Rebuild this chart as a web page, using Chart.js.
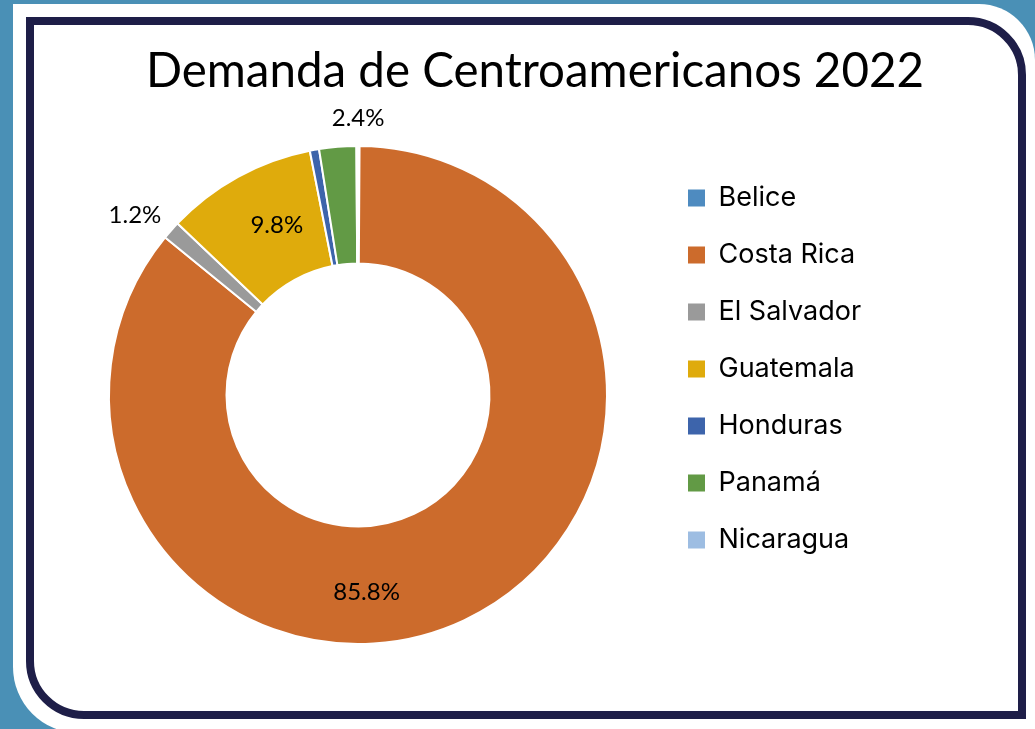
<!DOCTYPE html>
<html>
<head>
<meta charset="utf-8">
<script src="https://cdn.jsdelivr.net/npm/chart.js@4.4.1/dist/chart.umd.min.js"></script>
<style>
  html, body { margin: 0; padding: 0; }
  body { width: 1035px; height: 729px; overflow: hidden; background: #4a90b6; position: relative; }
  #panel { position: absolute; left: 13px; top: 4px; width: 1022px; height: 729px; background: #ffffff; border-radius: 0 56px 0 66px; }
  #frame { position: absolute; left: 26px; top: 17px; width: 984px; height: 686px; border: 8px solid #1e1e48; border-radius: 0 58px 0 58px; }
  #wrap { position: absolute; left: 0; top: 0; width: 1035px; height: 729px; }
</style>
</head>
<body>
<div id="panel"></div>
<div id="frame"></div>
<div id="wrap"><canvas id="c" width="1035" height="729"></canvas></div>
<script>
// ---- data ----
const titleText = 'Demanda de Centroamericanos 2022';
const categories = ['Belice', 'Costa Rica', 'El Salvador', 'Guatemala', 'Honduras', 'Panamá', 'Nicaragua'];
const shares = [0.1, 85.8, 1.2, 9.8, 0.6, 2.4, 0.1];
const sliceColors = ['#4e8bc0', '#cc6b2c', '#9a9a9a', '#dfab0c', '#3d64ab', '#629a45', '#9dbde2'];

const TITLE_FONT = 'Lato, "Open Sans", "Liberation Sans", sans-serif';
const LEGEND_FONT = 'Inter, "Open Sans", "Liberation Sans", sans-serif';

// draws the percentage labels relative to each arc's own geometry
const sliceLabels = {
  id: 'sliceLabels',
  afterDatasetsDraw(chart, args, opts) {
    const meta = chart.getDatasetMeta(0);
    const values = chart.data.datasets[0].data;
    const ctx = chart.ctx;
    ctx.save();
    ctx.font = opts.font;
    ctx.fillStyle = opts.color;
    ctx.textAlign = 'center';
    ctx.textBaseline = 'middle';
    meta.data.forEach((arc, i) => {
      const v = values[i];
      if (v < opts.minValue) return;
      const p = arc.getProps(['x', 'y', 'startAngle', 'endAngle', 'innerRadius', 'outerRadius'], true);
      const place = opts.placement[i] || { shift: 0, f: 0.5 };
      const a = (p.startAngle + p.endAngle) / 2 + place.shift * Math.PI / 180;
      const r = p.innerRadius + place.f * (p.outerRadius - p.innerRadius);
      ctx.fillText(v.toFixed(1) + '%', p.x + r * Math.cos(a), p.y + r * Math.sin(a));
    });
    ctx.restore();
  }
};

// gives the right-hand legend a fixed box width so the title centres over the whole frame
const legendWidthFix = {
  id: 'legendWidthFix',
  beforeUpdate(chart, args, opts) {
    const lg = chart.legend;
    if (lg && !lg._fixedWidth) {
      const fit = lg.fit;
      lg.fit = function () { fit.call(this); this.width = opts.width; };
      lg._fixedWidth = true;
    }
  }
};

new Chart(document.getElementById('c'), {
  type: 'doughnut',
  data: {
    labels: categories,
    datasets: [{
      data: shares,
      backgroundColor: sliceColors,
      borderColor: '#ffffff',
      borderWidth: 2,
      radius: 249,
      cutout: '52.8%'
    }]
  },
  plugins: [sliceLabels, legendWidthFix],
  options: {
    responsive: false,
    animation: false,
    layout: { padding: { top: 43.75, bottom: 34.75, left: 58, right: 23 } },
    plugins: {
      title: {
        display: true,
        text: titleText,
        color: '#000000',
        font: { family: TITLE_FONT, size: 47.5, weight: 'normal', lineHeight: 1 },
        padding: { top: 4.5, bottom: 0 }
      },
      legend: {
        display: true,
        position: 'right',
        align: 'center',
        labels: {
          color: '#000000',
          font: { family: LEGEND_FONT, size: 27 },
          boxWidth: 17,
          boxHeight: 17,
          padding: 30,
          generateLabels(chart) {
            const items = Chart.overrides.doughnut.plugins.legend.labels.generateLabels(chart);
            return items.map(it => Object.assign(it, { lineWidth: 0 }));
          }
        }
      },
      tooltip: { enabled: false },
      legendWidthFix: { width: 354 },
      sliceLabels: {
        font: '24px ' + TITLE_FONT,
        color: '#000000',
        minValue: 1,
        placement: {
          1: { shift: 22.7, f: 0.56 },
          2: { shift: -2.5, f: 1.32 },
          3: { shift: 3.2, f: 0.48 },
          5: { shift: 4.7, f: 1.24 }
        }
      }
    }
  }
});
</script>
</body>
</html>
